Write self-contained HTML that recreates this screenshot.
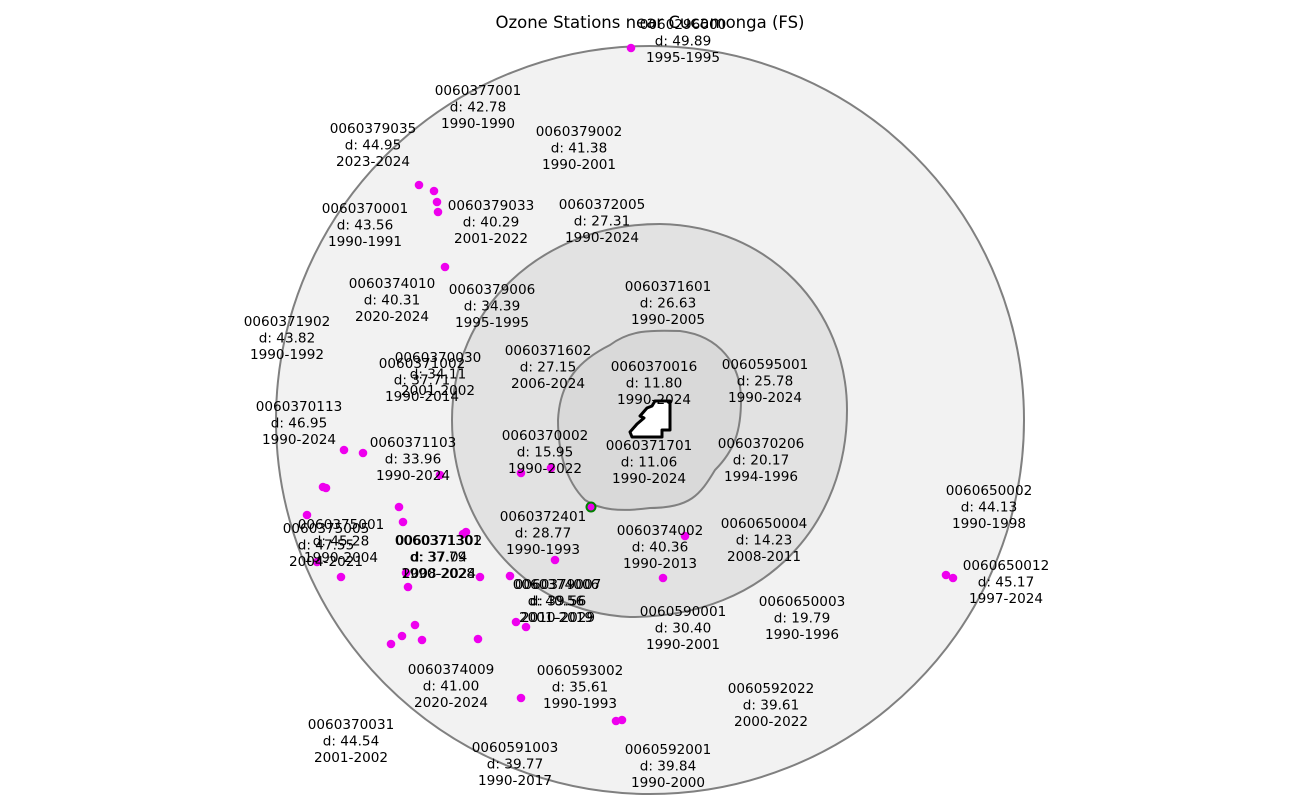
<!DOCTYPE html>
<html><head><meta charset="utf-8"><style>
html,body{margin:0;padding:0;background:#fff;}
svg{display:block;}
text{font-family:"DejaVu Sans","Liberation Sans",sans-serif;font-size:13.6px;fill:#000;text-anchor:middle;}
</style></head><body>
<svg width="1300" height="802" viewBox="0 0 1300 802" xmlns="http://www.w3.org/2000/svg">
<circle cx="650" cy="420" r="374" fill="#f2f2f2" stroke="#808080" stroke-width="2"/>
<path d="M452,420 C452,310 540,224 660,224 C770,226 847,310 847,410 C847,520 770,617 630,617 C520,612 452,520 452,420 Z" fill="#e2e2e2" stroke="#808080" stroke-width="2"/>
<path d="M558,420 C560,380 580,360 610,345 C630,330 650,330 680,331 C720,336 741,365 741,400 C741,430 735,450 715,470 C700,495 690,508 650,508 C620,512 600,510 585,500 C565,480 558,450 558,420 Z" fill="#d9d9d9" stroke="#808080" stroke-width="2"/>
<polygon points="632,437 662,437 662,430 670,430 670,401 655,401 652,406 647,408 640,416 644,418 637,424 630,432" fill="#fff" stroke="#000" stroke-width="3" stroke-linejoin="round"/>
<g fill="#ee00ee">
<circle cx="631" cy="48" r="4.3"/><circle cx="419" cy="185" r="4.3"/><circle cx="434" cy="191" r="4.3"/><circle cx="437" cy="202" r="4.3"/><circle cx="438" cy="212" r="4.3"/><circle cx="445" cy="267" r="4.3"/><circle cx="344" cy="450" r="4.3"/><circle cx="363" cy="453" r="4.3"/><circle cx="440" cy="475" r="4.3"/><circle cx="323" cy="487" r="4.3"/><circle cx="326" cy="488" r="4.3"/><circle cx="307" cy="515" r="4.3"/><circle cx="399" cy="507" r="4.3"/><circle cx="403" cy="522" r="4.3"/><circle cx="317" cy="562" r="4.3"/><circle cx="341" cy="577" r="4.3"/><circle cx="406" cy="573" r="4.3"/><circle cx="408" cy="587" r="4.3"/><circle cx="463" cy="534" r="4.3"/><circle cx="466" cy="532" r="4.3"/><circle cx="480" cy="577" r="4.3"/><circle cx="510" cy="576" r="4.3"/><circle cx="521" cy="473" r="4.3"/><circle cx="551" cy="468" r="4.3"/><circle cx="555" cy="560" r="4.3"/><circle cx="516" cy="622" r="4.3"/><circle cx="526" cy="627" r="4.3"/><circle cx="415" cy="625" r="4.3"/><circle cx="402" cy="636" r="4.3"/><circle cx="391" cy="644" r="4.3"/><circle cx="422" cy="640" r="4.3"/><circle cx="478" cy="639" r="4.3"/><circle cx="521" cy="698" r="4.3"/><circle cx="616" cy="721" r="4.3"/><circle cx="622" cy="720" r="4.3"/><circle cx="663" cy="578" r="4.3"/><circle cx="685" cy="536" r="4.3"/><circle cx="946" cy="575" r="4.3"/><circle cx="953" cy="578" r="4.3"/>
</g>
<circle cx="591" cy="507" r="4.5" fill="#ee00ee" stroke="#008000" stroke-width="2"/>
<text x="650" y="28" style="font-size:16.5px">Ozone Stations near Cucamonga (FS)</text>
<g>
<text x="683" y="29">0060296000<tspan x="683" dy="16.5">d: 49.89</tspan><tspan x="683" dy="16.5">1995-1995</tspan></text>
<text x="478" y="95">0060377001<tspan x="478" dy="16.5">d: 42.78</tspan><tspan x="478" dy="16.5">1990-1990</tspan></text>
<text x="373" y="133">0060379035<tspan x="373" dy="16.5">d: 44.95</tspan><tspan x="373" dy="16.5">2023-2024</tspan></text>
<text x="579" y="136">0060379002<tspan x="579" dy="16.5">d: 41.38</tspan><tspan x="579" dy="16.5">1990-2001</tspan></text>
<text x="365" y="213">0060370001<tspan x="365" dy="16.5">d: 43.56</tspan><tspan x="365" dy="16.5">1990-1991</tspan></text>
<text x="491" y="210">0060379033<tspan x="491" dy="16.5">d: 40.29</tspan><tspan x="491" dy="16.5">2001-2022</tspan></text>
<text x="602" y="209">0060372005<tspan x="602" dy="16.5">d: 27.31</tspan><tspan x="602" dy="16.5">1990-2024</tspan></text>
<text x="392" y="288">0060374010<tspan x="392" dy="16.5">d: 40.31</tspan><tspan x="392" dy="16.5">2020-2024</tspan></text>
<text x="492" y="294">0060379006<tspan x="492" dy="16.5">d: 34.39</tspan><tspan x="492" dy="16.5">1995-1995</tspan></text>
<text x="668" y="291">0060371601<tspan x="668" dy="16.5">d: 26.63</tspan><tspan x="668" dy="16.5">1990-2005</tspan></text>
<text x="287" y="326">0060371902<tspan x="287" dy="16.5">d: 43.82</tspan><tspan x="287" dy="16.5">1990-1992</tspan></text>
<text x="438" y="362">0060370030<tspan x="438" dy="16.5">d: 34.11</tspan><tspan x="438" dy="16.5">2001-2002</tspan></text>
<text x="422" y="368">0060371002<tspan x="422" dy="16.5">d: 37.71</tspan><tspan x="422" dy="16.5">1990-2014</tspan></text>
<text x="548" y="355">0060371602<tspan x="548" dy="16.5">d: 27.15</tspan><tspan x="548" dy="16.5">2006-2024</tspan></text>
<text x="654" y="371">0060370016<tspan x="654" dy="16.5">d: 11.80</tspan><tspan x="654" dy="16.5">1990-2024</tspan></text>
<text x="765" y="369">0060595001<tspan x="765" dy="16.5">d: 25.78</tspan><tspan x="765" dy="16.5">1990-2024</tspan></text>
<text x="299" y="411">0060370113<tspan x="299" dy="16.5">d: 46.95</tspan><tspan x="299" dy="16.5">1990-2024</tspan></text>
<text x="413" y="447">0060371103<tspan x="413" dy="16.5">d: 33.96</tspan><tspan x="413" dy="16.5">1990-2024</tspan></text>
<text x="545" y="440">0060370002<tspan x="545" dy="16.5">d: 15.95</tspan><tspan x="545" dy="16.5">1990-2022</tspan></text>
<text x="649" y="450">0060371701<tspan x="649" dy="16.5">d: 11.06</tspan><tspan x="649" dy="16.5">1990-2024</tspan></text>
<text x="761" y="448">0060370206<tspan x="761" dy="16.5">d: 20.17</tspan><tspan x="761" dy="16.5">1994-1996</tspan></text>
<text x="989" y="495">0060650002<tspan x="989" dy="16.5">d: 44.13</tspan><tspan x="989" dy="16.5">1990-1998</tspan></text>
<text x="341" y="529">0060375001<tspan x="341" dy="16.5">d: 45.28</tspan><tspan x="341" dy="16.5">1990-2004</tspan></text>
<text x="326" y="533">0060375005<tspan x="326" dy="16.5">d: 47.55</tspan><tspan x="326" dy="16.5">2004-2021</tspan></text>
<text x="438" y="545">0060371301<tspan x="438" dy="16.5">d: 37.79</tspan><tspan x="438" dy="16.5">1990-2028</tspan></text>
<text x="439" y="545">0060371302<tspan x="439" dy="16.5">d: 37.04</tspan><tspan x="439" dy="16.5">2008-2024</tspan></text>
<text x="543" y="521">0060372401<tspan x="543" dy="16.5">d: 28.77</tspan><tspan x="543" dy="16.5">1990-1993</tspan></text>
<text x="660" y="535">0060374002<tspan x="660" dy="16.5">d: 40.36</tspan><tspan x="660" dy="16.5">1990-2013</tspan></text>
<text x="764" y="528">0060650004<tspan x="764" dy="16.5">d: 14.23</tspan><tspan x="764" dy="16.5">2008-2011</tspan></text>
<text x="1006" y="570">0060650012<tspan x="1006" dy="16.5">d: 45.17</tspan><tspan x="1006" dy="16.5">1997-2024</tspan></text>
<text x="556" y="589">0060374006<tspan x="556" dy="16.5">d: 40.56</tspan><tspan x="556" dy="16.5">2001-2019</tspan></text>
<text x="558" y="589">0060379007<tspan x="558" dy="16.5">d: 39.56</tspan><tspan x="558" dy="16.5">2010-2029</tspan></text>
<text x="683" y="616">0060590001<tspan x="683" dy="16.5">d: 30.40</tspan><tspan x="683" dy="16.5">1990-2001</tspan></text>
<text x="802" y="606">0060650003<tspan x="802" dy="16.5">d: 19.79</tspan><tspan x="802" dy="16.5">1990-1996</tspan></text>
<text x="451" y="674">0060374009<tspan x="451" dy="16.5">d: 41.00</tspan><tspan x="451" dy="16.5">2020-2024</tspan></text>
<text x="580" y="675">0060593002<tspan x="580" dy="16.5">d: 35.61</tspan><tspan x="580" dy="16.5">1990-1993</tspan></text>
<text x="771" y="693">0060592022<tspan x="771" dy="16.5">d: 39.61</tspan><tspan x="771" dy="16.5">2000-2022</tspan></text>
<text x="351" y="729">0060370031<tspan x="351" dy="16.5">d: 44.54</tspan><tspan x="351" dy="16.5">2001-2002</tspan></text>
<text x="515" y="752">0060591003<tspan x="515" dy="16.5">d: 39.77</tspan><tspan x="515" dy="16.5">1990-2017</tspan></text>
<text x="668" y="754">0060592001<tspan x="668" dy="16.5">d: 39.84</tspan><tspan x="668" dy="16.5">1990-2000</tspan></text>
</g>
</svg>
</body></html>
